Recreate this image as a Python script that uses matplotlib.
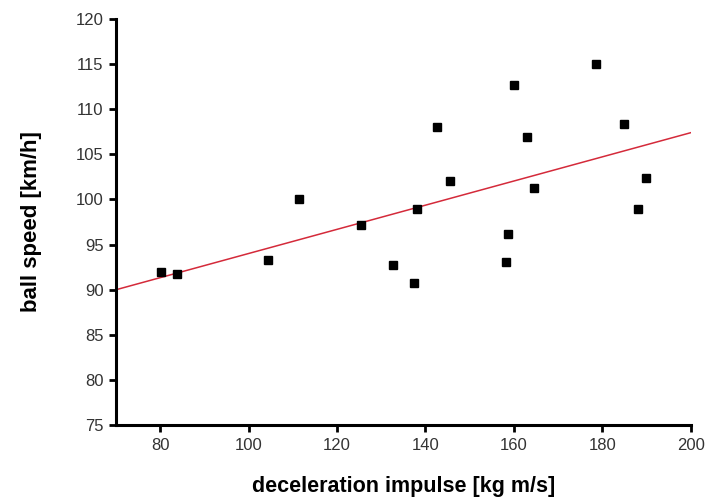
import matplotlib.pyplot as plt

plt.rcParams["font.family"] = ["Liberation Sans", "DejaVu Sans"]

# data
impulse = [80.3, 83.8, 104.5, 111.4, 125.5, 132.7, 137.5, 138.2, 142.5, 145.5,
           158.3, 158.6, 160.0, 163.0, 164.5, 178.6, 185.0, 188.0, 189.8]
speed = [92.0, 91.8, 93.3, 100.0, 97.2, 92.7, 90.8, 98.9, 108.0, 102.0,
         93.1, 96.2, 112.7, 106.9, 101.3, 115.0, 108.4, 98.9, 102.4]
fit_x = [70, 200]
fit_y = [90.0, 107.4]

fig = plt.figure(figsize=(7.07, 4.99), dpi=100)
ax = fig.add_axes([0.164, 0.148, 0.813, 0.814])

ax.plot(fit_x, fit_y, color="#d42a3a", linewidth=1.1, zorder=2)
ax.plot(impulse, speed, linestyle="none", marker="s", markersize=6,
        color="black", zorder=3)

ax.set_xlim(70, 200)
ax.set_ylim(75, 120)
ax.set_xticks(range(80, 201, 20))
ax.set_yticks(range(75, 121, 5))

for side in ("top", "right"):
    ax.spines[side].set_visible(False)
for side in ("left", "bottom"):
    ax.spines[side].set_linewidth(2.2)
ax.tick_params(direction="out", length=5, width=2, labelsize=12,
               labelcolor="#333333", pad=4)

ax.set_xlabel("deceleration impulse [kg m/s]", fontsize=15.5,
              fontweight="bold", labelpad=17)
ax.set_ylabel("ball speed [km/h]", fontsize=16, fontweight="bold",
              labelpad=24)

fig.savefig("out.png", dpi=100)
